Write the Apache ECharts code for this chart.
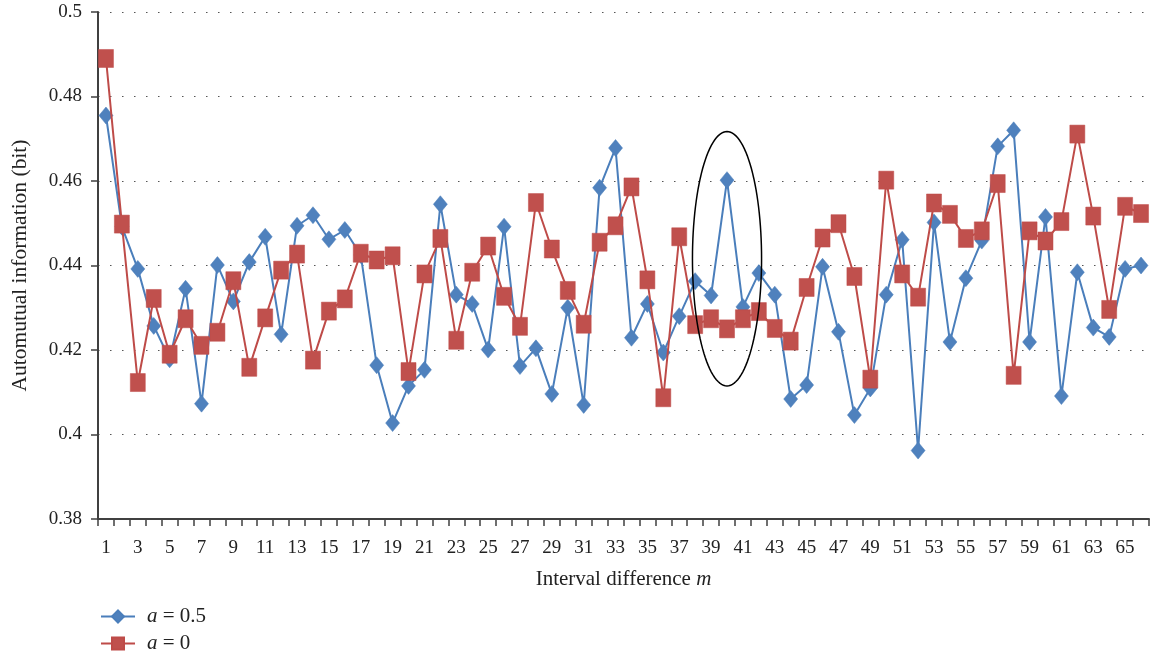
<!DOCTYPE html>
<html>
<head>
<meta charset="utf-8">
<script src="https://cdn.jsdelivr.net/npm/echarts@6/dist/echarts.min.js"></script>
<style>
  html, body { margin: 0; padding: 0; background: #fff; }
  #chart { width: 1155px; height: 657px; }
</style>
</head>
<body>
<div id="chart"></div>
<script>
// Interval difference m = 1 … 66
const categories = Array.from({ length: 66 }, (_, i) => String(i + 1));

// Automutual information (bit) for a = 0.5
const seriesHalf = [
  0.4755, 0.4492, 0.4392, 0.4257, 0.4178, 0.4345, 0.4073, 0.4401, 0.4315, 0.4408,
  0.4468, 0.4237, 0.4494, 0.4519, 0.4462, 0.4484, 0.4425, 0.4164, 0.4027, 0.4115,
  0.4153, 0.4545, 0.4331, 0.4309, 0.4201, 0.4492, 0.4162, 0.4204, 0.4096, 0.4300,
  0.4070, 0.4584, 0.4678, 0.4229, 0.4309, 0.4194, 0.4280, 0.4363, 0.4329, 0.4602,
  0.4302, 0.4382, 0.4331, 0.4084, 0.4117, 0.4397, 0.4243, 0.4046, 0.4109, 0.4331,
  0.4461, 0.3962, 0.4502, 0.4219, 0.4370, 0.4459, 0.4682, 0.4720, 0.4219, 0.4515,
  0.4091, 0.4384, 0.4253, 0.4231, 0.4392, 0.4400
];

// Automutual information (bit) for a = 0
const seriesZero = [
  0.4890, 0.4498, 0.4123, 0.4322, 0.4190, 0.4274, 0.4211, 0.4242, 0.4364, 0.4159,
  0.4276, 0.4389, 0.4427, 0.4176, 0.4292, 0.4321, 0.4429, 0.4413, 0.4423, 0.4149,
  0.4380, 0.4464, 0.4223, 0.4384, 0.4446, 0.4327, 0.4256, 0.4549, 0.4439, 0.4341,
  0.4261, 0.4455, 0.4494, 0.4586, 0.4366, 0.4087, 0.4468, 0.4260, 0.4274, 0.4250,
  0.4274, 0.4291, 0.4251, 0.4221, 0.4348, 0.4465, 0.4499, 0.4374, 0.4131, 0.4602,
  0.4380, 0.4325, 0.4548, 0.4521, 0.4464, 0.4482, 0.4594, 0.4140, 0.4482, 0.4458,
  0.4504, 0.4711, 0.4517, 0.4296, 0.4540, 0.4523
];

const seriesNames = ['a = 0.5', 'a = 0'];

// Value axis range
const yMin = 0.38;
const yMax = 0.5;
const yStep = 0.02;

// Highlighted region: [category, centre value, half value span, half width in bands]
const highlight = ['40', 0.4416, 0.0301, 2.17];

const serif = '"Liberation Serif", "DejaVu Serif", serif';
const axisColor = '#404040';

const chart = echarts.init(document.getElementById('chart'), null, { renderer: 'canvas' });

chart.setOption({
  animation: false,
  backgroundColor: '#fff',
  grid: { left: 98, right: 6, top: 12, bottom: 138, containLabel: false },
  xAxis: {
    type: 'category',
    data: categories,
    boundaryGap: true,
    name: 'Interval difference {i|m}',
    nameLocation: 'middle',
    nameGap: 50,
    nameTextStyle: {
      fontFamily: serif, fontSize: 21, color: '#222',
      rich: { i: { fontFamily: serif, fontSize: 21, fontStyle: 'italic', color: '#222' } }
    },
    axisLine: { lineStyle: { color: axisColor, width: 2 } },
    axisTick: { show: true, interval: 0, alignWithLabel: false, length: 7, lineStyle: { color: axisColor, width: 1.5 } },
    axisLabel: { interval: 1, margin: 20, fontFamily: serif, fontSize: 19, color: '#222' },
    splitLine: { show: false }
  },
  yAxis: {
    type: 'value',
    min: yMin,
    max: yMax,
    interval: yStep,
    name: 'Automutual information (bit)',
    nameLocation: 'middle',
    nameRotate: 90,
    nameGap: 67,
    nameTextStyle: { fontFamily: serif, fontSize: 21.5, color: '#222' },
    axisLine: { show: true, lineStyle: { color: axisColor, width: 2 } },
    axisTick: { show: true, length: 7, lineStyle: { color: axisColor, width: 1.5 } },
    axisLabel: { margin: 16, fontFamily: serif, fontSize: 19, color: '#222' },
    splitLine: { show: true, lineStyle: { color: '#555', width: 1.2, type: [1.5, 10.5] } }
  },
  legend: {
    orient: 'vertical',
    left: 100,
    top: 606,
    bottom: 0,
    padding: 0,
    itemWidth: 34,
    itemHeight: 15,
    itemGap: 6,
    data: seriesNames,
    formatter: n => n.replace(/^a/, '{i|a}'),
    textStyle: {
      fontFamily: serif, fontSize: 21, color: '#222', padding: [0, 0, 0, 7],
      rich: { i: { fontFamily: serif, fontSize: 21, fontStyle: 'italic', color: '#222' } }
    }
  },
  series: [
    {
      name: seriesNames[0],
      type: 'line',
      data: seriesHalf,
      symbol: 'diamond',
      symbolSize: [14, 17],
      showAllSymbol: true,
      lineStyle: { color: '#4a7ebb', width: 2 },
      itemStyle: { color: '#4f81bd', borderColor: '#4a7ebb', borderWidth: 0.5 },
      z: 2
    },
    {
      name: seriesNames[1],
      type: 'line',
      data: seriesZero,
      symbol: 'rect',
      symbolSize: [15, 18],
      showAllSymbol: true,
      lineStyle: { color: '#be4b48', width: 2 },
      itemStyle: { color: '#c0504d', borderColor: '#be4b48', borderWidth: 0.5 },
      z: 3
    },
    {
      type: 'custom',
      silent: true,
      z: 5,
      data: [highlight],
      renderItem(params, api) {
        const c = api.coord([api.value(0), api.value(1)]);
        const unit = api.size([1, api.value(2)]);
        const rx = unit[0] * api.value(3);
        const ry = unit[1];
        const pts = [];
        for (let k = 0; k < 120; k++) {
          const t = (k / 120) * Math.PI * 2;
          pts.push([c[0] + rx * Math.cos(t), c[1] + ry * Math.sin(t)]);
        }
        return {
          type: 'polygon',
          shape: { points: pts },
          style: { fill: 'none', stroke: '#000', lineWidth: 1.5 }
        };
      }
    }
  ]
});
</script>
</body>
</html>
